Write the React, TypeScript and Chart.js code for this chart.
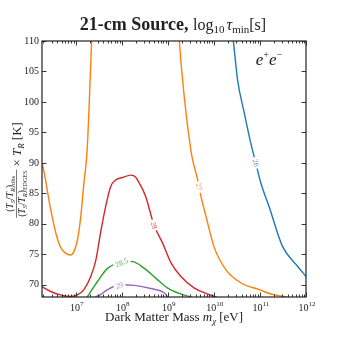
import React, { useEffect, useRef } from "react";
import { Chart, registerables } from "chart.js";
Chart.register(...registerables);

// ---- data (x in log10 of mass [eV], y in K) ----
const X_MIN_LOG = 6.27;
const X_MAX_LOG = 12;
const Y_MIN = 68;
const Y_MAX = 110;
const xTickExps = [7, 8, 9, 10, 11, 12];
const yTickVals = [70, 75, 80, 85, 90, 95, 100, 105, 110];

const blueLogM = [10.39, 10.42, 10.515, 10.66, 10.8, 10.91, 11.02, 11.2, 11.49, 11.82, 12.02];
const blueT = [112, 110.2, 103.6, 98.2, 93.3, 90.0, 86.7, 82.8, 76.3, 73.0, 71.2];

const orangeLeftLogM = [6.25, 6.28, 6.46, 6.57, 6.67, 6.78, 6.89, 6.96, 7.04, 7.11, 7.18, 7.25, 7.35, 7.37];
const orangeLeftT = [90.2, 89.7, 82.3, 78.5, 76.2, 75.2, 74.9, 75.4, 77.4, 81.1, 86.7, 92.1, 110.5, 114];

const orangeRightLogM = [9.22, 9.25, 9.5, 9.65, 9.72, 9.83, 10.01, 10.26, 10.59, 10.99, 11.24, 11.57, 11.65];
const orangeRightT = [114, 110, 92.1, 87.2, 84.5, 81.2, 76.1, 72.5, 70.3, 69.2, 68.5, 68.0, 67.8];

const redLogM = [6.24, 6.46, 6.67, 6.89, 7.04, 7.18, 7.33, 7.44, 7.54, 7.65, 7.76, 7.87, 8.02, 8.2, 8.3, 8.38, 8.52, 8.7, 8.89, 9.07, 9.28, 9.57, 9.86, 10.04, 10.1];
const redT = [69.8, 68.9, 68.35, 68.1, 68.35, 69.2, 71.4, 74.1, 78.5, 82.8, 86.1, 87.2, 87.6, 88.0, 87.7, 86.7, 84.5, 79.8, 76.8, 73.6, 71.4, 69.5, 68.5, 68.0, 67.8];

const greenLogM = [7.2, 7.25, 7.47, 7.69, 8.02, 8.23, 8.49, 8.74, 8.99, 9.28, 9.5, 9.55];
const greenT = [67.5, 68.0, 70.5, 72.7, 73.7, 73.8, 72.7, 71.1, 69.5, 68.5, 68.0, 67.8];

const purpleLogM = [7.38, 7.43, 7.54, 7.69, 7.98, 8.27, 8.63, 8.92, 9.0, 9.03];
const purpleT = [67.7, 68.0, 68.4, 69.2, 70.0, 69.9, 69.4, 68.7, 68.0, 67.8];

const levelLabels = ["26", "27", "28", "28.5", "29"];
const labelLogM = [10.91, 9.68, 8.7, 8.0, 7.95];

const COLORS = {
  blue: "#1f77b4",
  orange: "#ff7f0e",
  red: "#d62728",
  green: "#2ca02c",
  purple: "#9467bd",
};

const FONT = "'Liberation Serif', 'DejaVu Serif', serif";
const INK = "#222";

type Part = { t: string; size: number; italic?: boolean; bold?: boolean; dy?: number; gap?: number };

function fontOf(p: Part) {
  return `${p.italic ? "italic " : ""}${p.bold ? "bold " : ""}${p.size}px ${FONT}`;
}
function measureParts(ctx: CanvasRenderingContext2D, parts: Part[]) {
  let w = 0;
  for (const p of parts) {
    ctx.font = fontOf(p);
    w += ctx.measureText(p.t).width + (p.gap || 0);
  }
  return w;
}
function drawParts(ctx: CanvasRenderingContext2D, parts: Part[], x: number, y: number, align: "left" | "center" = "center") {
  const w = measureParts(ctx, parts);
  let cx = align === "center" ? x - w / 2 : x;
  ctx.textAlign = "left";
  ctx.textBaseline = "alphabetic";
  for (const p of parts) {
    ctx.font = fontOf(p);
    ctx.fillText(p.t, cx, y + (p.dy || 0));
    cx += ctx.measureText(p.t).width + (p.gap || 0);
  }
  return w;
}

function toPoints(logs: number[], vals: number[]) {
  return logs.map((l, i) => ({ x: Math.pow(10, l), y: vals[i] }));
}

const decorPlugin = {
  id: "decor",
  afterDatasetsDraw(chart: any) {
    const ctx: CanvasRenderingContext2D = chart.ctx;
    const xs = chart.scales.x;
    const ys = chart.scales.y;

    // contour labels
    const labelDatasets = [0, 2, 3, 4, 5];
    labelDatasets.forEach((di, k) => {
      const ds = chart.data.datasets[di];
      const pts = ds.data.map((p: any) => ({ x: xs.getPixelForValue(p.x), y: ys.getPixelForValue(p.y) }));
      const lx = xs.getPixelForValue(Math.pow(10, labelLogM[k]));
      let seg = 0;
      for (let i = 0; i < pts.length - 1; i++) {
        if (pts[i].x <= lx && pts[i + 1].x >= lx) { seg = i; break; }
      }
      const p0 = pts[seg], p1 = pts[seg + 1];
      const t = (lx - p0.x) / (p1.x - p0.x || 1);
      const ly = p0.y + t * (p1.y - p0.y);
      let ang = Math.atan2(p1.y - p0.y, p1.x - p0.x);
      if (ang > Math.PI / 2) ang -= Math.PI;
      if (ang < -Math.PI / 2) ang += Math.PI;
      ctx.save();
      ctx.translate(lx, ly);
      ctx.rotate(ang);
      ctx.font = `7.5px ${FONT}`;
      const tw = ctx.measureText(levelLabels[k]).width;
      ctx.fillStyle = "#fff";
      ctx.fillRect(-tw / 2 - 2, -4, tw + 4, 8);
      ctx.fillStyle = ds.borderColor;
      ctx.globalAlpha = 0.8;
      ctx.textAlign = "center";
      ctx.textBaseline = "middle";
      ctx.fillText(levelLabels[k], 0, 0.5);
      ctx.restore();
    });
  },
  afterDraw(chart: any) {
    const ctx: CanvasRenderingContext2D = chart.ctx;
    const xs = chart.scales.x;
    const ys = chart.scales.y;
    const a = chart.chartArea;
    ctx.save();
    // frame
    ctx.strokeStyle = INK;
    ctx.lineWidth = 1.2;
    ctx.strokeRect(a.left, a.top, a.right - a.left, a.bottom - a.top);

    ctx.lineWidth = 0.9;
    ctx.beginPath();
    // x ticks
    for (let e = 6; e <= 12; e++) {
      for (let m = 1; m <= 9; m++) {
        const v = m * Math.pow(10, e);
        const lv = Math.log10(v);
        if (lv < X_MIN_LOG - 1e-9 || lv > X_MAX_LOG + 1e-9) continue;
        const px = Math.round(xs.getPixelForValue(v)) + 0.5;
        const len = m === 1 ? 4.5 : 2.5;
        ctx.moveTo(px, a.bottom);
        ctx.lineTo(px, a.bottom - len);
        ctx.moveTo(px, a.top);
        ctx.lineTo(px, a.top + len);
      }
    }
    // y ticks
    for (const v of yTickVals) {
      const py = Math.round(ys.getPixelForValue(v)) + 0.5;
      ctx.moveTo(a.left, py);
      ctx.lineTo(a.left + 4.5, py);
      ctx.moveTo(a.right, py);
      ctx.lineTo(a.right - 4.5, py);
    }
    ctx.stroke();

    // tick labels
    ctx.fillStyle = INK;
    ctx.font = `10px ${FONT}`;
    ctx.textAlign = "right";
    ctx.textBaseline = "middle";
    for (const v of yTickVals) {
      ctx.fillText(String(v), a.left - 3, ys.getPixelForValue(v));
    }
    for (const e of xTickExps) {
      const px = xs.getPixelForValue(Math.pow(10, e));
      drawParts(ctx, [
        { t: "10", size: 10 },
        { t: String(e), size: 7, dy: -5 },
      ], px + 1, a.bottom + 14);
    }

    // x-axis title
    drawParts(ctx, [
      { t: "Dark Matter Mass ", size: 13 },
      { t: "m", size: 13, italic: true },
      { t: "χ", size: 9, italic: true, dy: 3, gap: 3 },
      { t: "[eV]", size: 13 },
    ], (a.left + a.right) / 2, 321);

    // title
    drawParts(ctx, [
      { t: "21-cm Source, ", size: 18, bold: true },
      { t: "log", size: 16 },
      { t: "10", size: 11, dy: 3, gap: 2 },
      { t: "τ", size: 16, italic: true },
      { t: "min", size: 11, dy: 3 },
      { t: "[s]", size: 16 },
    ], 173, 30);

    // annotation e+e-
    drawParts(ctx, [
      { t: "e", size: 17, italic: true },
      { t: "+", size: 10, dy: -7 },
      { t: "e", size: 17, italic: true },
      { t: "−", size: 10, dy: -7 },
    ], 269, 65);

    // y-axis title (rotated)
    ctx.save();
    ctx.translate(16, 170);
    ctx.rotate(-Math.PI / 2);
    const fs = 9.5;
    const sub = 6.5;
    const num: Part[] = [
      { t: "(", size: fs },
      { t: "T", size: fs, italic: true },
      { t: "S", size: sub, italic: true, dy: 2 },
      { t: "/", size: fs },
      { t: "T", size: fs, italic: true },
      { t: "R", size: sub, italic: true, dy: 2 },
      { t: ")", size: fs },
      { t: "obs", size: sub, dy: 2 },
    ];
    const den: Part[] = [
      { t: "(", size: fs },
      { t: "T", size: fs, italic: true },
      { t: "S", size: sub, italic: true, dy: 2 },
      { t: "/", size: fs },
      { t: "T", size: fs, italic: true },
      { t: "R", size: sub, italic: true, dy: 2 },
      { t: ")", size: fs },
      { t: "EDGES", size: 6, dy: 2 },
    ];
    const rest: Part[] = [
      { t: " × ", size: 13 },
      { t: "T", size: 13, italic: true },
      { t: "R", size: 9, italic: true, dy: 3, gap: 3 },
      { t: "[K]", size: 13 },
    ];
    const wn = measureParts(ctx, num);
    const wd = measureParts(ctx, den);
    const wf = Math.max(wn, wd) + 2;
    const wr = measureParts(ctx, rest);
    const total = wf + wr;
    const x0 = -total / 2;
    drawParts(ctx, num, x0 + wf / 2, -3);
    drawParts(ctx, den, x0 + wf / 2, 8.5);
    ctx.strokeStyle = INK;
    ctx.lineWidth = 0.6;
    ctx.beginPath();
    ctx.moveTo(x0, 0.5);
    ctx.lineTo(x0 + wf, 0.5);
    ctx.stroke();
    drawParts(ctx, rest, x0 + wf, 4.5, "left");
    ctx.restore();

    ctx.restore();
  },
};

export default function App() {
  const ref = useRef<HTMLCanvasElement>(null);
  useEffect(() => {
    if (!ref.current) return;
    const mk = (logs: number[], vals: number[], color: string) => ({
      data: toPoints(logs, vals),
      borderColor: color,
      backgroundColor: color,
      borderWidth: 1.4,
      pointRadius: 0,
      fill: false,
      cubicInterpolationMode: "monotone" as const,
    });
    const chart = new Chart(ref.current, {
      type: "line",
      data: {
        datasets: [
          mk(blueLogM, blueT, COLORS.blue),
          mk(orangeLeftLogM, orangeLeftT, COLORS.orange),
          mk(orangeRightLogM, orangeRightT, COLORS.orange),
          mk(redLogM, redT, COLORS.red),
          mk(greenLogM, greenT, COLORS.green),
          mk(purpleLogM, purpleT, COLORS.purple),
        ],
      },
      options: {
        responsive: false,
        animation: false,
        parsing: true,
        layout: { padding: { left: 42, right: 34, top: 41, bottom: 43 } },
        scales: {
          x: { type: "logarithmic", min: Math.pow(10, X_MIN_LOG), max: Math.pow(10, X_MAX_LOG), display: false },
          y: { type: "linear", min: Y_MIN, max: Y_MAX, display: false },
        },
        plugins: { legend: { display: false }, tooltip: { enabled: false }, title: { display: false } },
      },
      plugins: [decorPlugin],
    });
    return () => chart.destroy();
  }, []);
  return (
    <div style={{ position: "absolute", left: 0, top: 0, width: 340, height: 340, background: "#fff" }}>
      <canvas ref={ref} width={340} height={340} style={{ width: 340, height: 340 }} />
    </div>
  );
}
